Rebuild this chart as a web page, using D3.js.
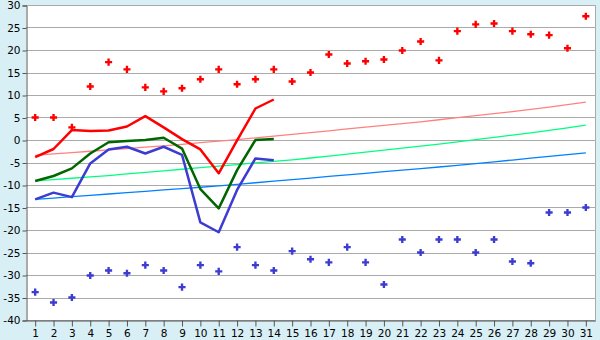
<!DOCTYPE html>
<html>
<head>
<meta charset="utf-8">
<script src="https://cdn.jsdelivr.net/npm/d3@7"></script>
<style>
  body { margin: 0; background: #d9eff6; }
  svg { display: block; }
  text { font-family: "DejaVu Sans", Verdana, sans-serif; font-size: 10.5px; fill: #000; }
</style>
</head>
<body>
<div class="chart"></div>
<script>
const days = d3.range(1, 32);
const yTicks = d3.range(-40, 31, 5);

// upper / lower scatter points
const highPts = [5.0, 5.0, 2.8, 11.9, 17.3, 15.7, 11.7, 10.8, 11.5, 13.5, 15.7, 12.4, 13.5, 15.7, 13.0,
  15.0, 19.0, 17.0, 17.5, 17.9, 19.9, 21.9, 17.7, 24.2, 25.7, 25.9, 24.2, 23.5, 23.3, 20.4, 27.5];
const lowPts = [-33.8, -36.1, -35.0, -30.1, -29.0, -29.6, -27.8, -29.0, -32.7, -27.8, -29.2, -23.8, -27.8, -29.0, -24.7,
  -26.5, -27.2, -23.8, -27.2, -32.1, -22.1, -25.0, -22.1, -22.1, -25.0, -22.1, -27.0, -27.4, -16.1, -16.1, -15.0];

// thick lines (days 1..14)
const redLine = [-3.8, -2.0, 2.2, 2.0, 2.1, 3.0, 5.3, 2.8, 0.2, -2.1, -7.4, -0.1, 7.0, 9.0];
const greenLine = [-9.1, -8.0, -6.3, -3.0, -0.5, -0.2, 0.0, 0.5, -1.9, -10.9, -15.2, -6.7, 0.0, 0.2];
const blueLine = [-13.2, -11.7, -12.7, -5.2, -2.1, -1.5, -3.0, -1.5, -3.3, -18.3, -20.5, -11.1, -4.1, -4.5];

// thin reference lines (days 1..31)
const pinkRef = [-3.4, -3.1, -2.8, -2.5, -2.2, -1.9, -1.6, -1.3, -0.95, -0.6, -0.25, 0.1, 0.45, 0.85, 1.25,
  1.65, 2.05, 2.45, 2.85, 3.25, 3.65, 4.05, 4.5, 4.95, 5.4, 5.85, 6.3, 6.8, 7.3, 7.85, 8.4];
const greenRef = [-9.1, -8.8, -8.5, -8.2, -7.9, -7.55, -7.2, -6.85, -6.5, -6.15, -5.8, -5.45, -5.1, -4.75, -4.4,
  -4.0, -3.6, -3.15, -2.7, -2.25, -1.8, -1.35, -0.9, -0.4, 0.1, 0.6, 1.1, 1.6, 2.15, 2.7, 3.3];
const blueRef = [-13.2, -12.9, -12.6, -12.3, -12.0, -11.7, -11.4, -11.1, -10.8, -10.5, -10.2, -9.85, -9.5, -9.15, -8.8,
  -8.45, -8.1, -7.75, -7.4, -7.05, -6.7, -6.35, -6.0, -5.65, -5.25, -4.85, -4.45, -4.05, -3.65, -3.25, -2.85];

const width = 600;
const height = 340;
const plotL = 26, plotR = 595, plotT = 5, plotB = 320;

const svg = d3.select('.chart').append('svg')
  .attr('width', width)
  .attr('height', height);

const x = d3.scaleBand()
  .domain(days)
  .range([plotL, plotR])
  .padding(0);
const cx = d => x(d) + x.bandwidth() / 2;

const y = d3.scaleLinear()
  .domain([-40, 30])
  .range([plotB, plotT]);

// plot area
svg.append('rect')
  .attr('x', plotL).attr('y', plotT)
  .attr('width', plotR - plotL).attr('height', plotB - plotT)
  .style('fill', '#fff');

// grid
svg.append('g')
  .selectAll('line')
  .data(yTicks)
  .enter()
  .append('line')
  .attr('x1', plotL).attr('x2', plotR)
  .attr('y1', d => Math.round(y(d)) + 0.5)
  .attr('y2', d => Math.round(y(d)) + 0.5)
  .style('stroke', '#aaa');

svg.append('line')
  .attr('x1', plotR + 0.5).attr('x2', plotR + 0.5)
  .attr('y1', plotT).attr('y2', plotB)
  .style('stroke', '#aaa');

// axes
const yAxis = d3.axisLeft(y).tickValues(yTicks).tickSize(4).tickPadding(2)
  .tickFormat(d => String(d));
const gy = svg.append('g')
  .attr('transform', `translate(${plotL + 0.5},0.5)`)
  .call(yAxis);
gy.select('.domain').style('stroke', '#555');
gy.selectAll('.tick line').style('stroke', '#555');
gy.selectAll('text').style('font-size', '10.5px').style('font-family', '"DejaVu Sans", Verdana, sans-serif');

const xAxis = d3.axisBottom(x).tickSize(6).tickPadding(3).tickSizeOuter(0);
const gx = svg.append('g')
  .attr('transform', `translate(0.5,${plotB + 0.5})`)
  .call(xAxis);
gx.select('.domain').style('stroke', '#555');
gx.selectAll('.tick line').style('stroke', '#555');
gx.selectAll('text').style('font-size', '10.5px').style('font-family', '"DejaVu Sans", Verdana, sans-serif');

const line = d3.line()
  .x((d, i) => cx(days[i]))
  .y(d => y(d));

// thin reference lines
[[pinkRef, '#ff8080'], [greenRef, '#00ff80'], [blueRef, '#0080ff']].forEach(([vals, col]) => {
  svg.append('path')
    .datum(vals)
    .attr('d', line)
    .style('fill', 'none')
    .style('stroke', col)
    .style('stroke-width', 1.3);
});

// thick lines
[[redLine, '#ff0000'], [greenLine, '#006600'], [blueLine, '#3c3cd2']].forEach(([vals, col]) => {
  svg.append('path')
    .datum(vals)
    .attr('d', line)
    .style('fill', 'none')
    .style('stroke', col)
    .style('stroke-width', 2.5)
    .style('stroke-linejoin', 'round');
});

// scatter markers
const marker = d3.symbol().type(d3.symbolCross).size(28);
[[highPts, '#ff0000'], [lowPts, '#3c3cd2']].forEach(([vals, col]) => {
  svg.append('g')
    .selectAll('path')
    .data(vals)
    .enter()
    .append('path')
    .attr('d', marker)
    .attr('transform', (d, i) => `translate(${cx(days[i])},${y(d)})`)
    .style('fill', col);
});
</script>
</body>
</html>
